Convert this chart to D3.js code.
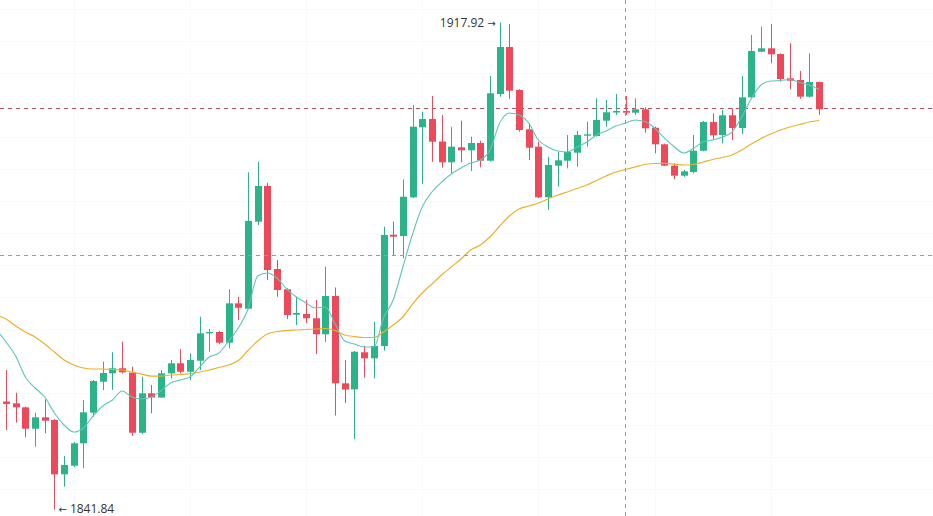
<!DOCTYPE html>
<html>
<head>
<meta charset="utf-8">
<script src="https://cdn.jsdelivr.net/npm/d3@7"></script>
<style>
  body { margin: 0; background: #fff; }
  #chart svg { display: block; }
</style>
</head>
<body>
<div id="chart"></div>
<script>
// candle data, oldest first
var open = [1858.71,1858.43,1857.80,1854.46,1856.24,1855.82,1847.34,1848.68,1852.18,1856.96,
  1861.80,1863.11,1863.90,1863.21,1853.83,1859.99,1859.33,1863.11,1864.68,1863.36,
  1865.08,1869.36,1869.57,1867.90,1874.05,1873.21,1886.80,1892.38,1879.41,1876.24,
  1872.27,1872.38,1871.71,1869.21,1875.19,1861.55,1860.61,1866.40,1865.46,1867.38,
  1884.77,1884.56,1890.61,1901.55,1902.84,1899.33,1896.08,1898.42,1897.95,1899.09,
  1896.33,1906.75,1914.09,1907.37,1901.23,1898.52,1890.61,1895.55,1896.33,1897.58,
  1900.24,1900.19,1902.58,1903.86,1904.09,1903.83,1904.36,1901.48,1898.89,1895.55,
  1893.99,1894.56,1897.89,1902.37,1900.34,1903.42,1901.44,1906.23,1913.36,1913.89,
  1913.00,1909.20,1908.94,1906.33,1908.62];
var high = [1863.63,1860.08,1857.90,1856.96,1859.05,1855.97,1850.19,1852.38,1858.94,1862.07,
  1864.93,1866.40,1868.05,1864.15,1862.58,1861.29,1863.63,1865.19,1866.91,1866.24,
  1871.96,1870.04,1869.73,1876.24,1875.08,1894.52,1896.17,1892.89,1880.82,1876.40,
  1875.08,1874.57,1874.57,1879.77,1876.52,1865.19,1866.60,1867.43,1871.18,1886.02,
  1886.80,1893.42,1905.03,1903.98,1906.44,1903.47,1901.64,1902.58,1900.08,1899.45,
  1909.56,1917.92,1917.69,1907.50,1902.17,1899.30,1896.95,1897.74,1900.34,1900.97,
  1902.42,1906.08,1905.81,1906.75,1906.44,1906.08,1904.67,1901.64,1899.00,1895.92,
  1894.88,1900.34,1902.53,1903.73,1904.25,1904.52,1909.56,1915.97,1917.26,1917.69,
  1913.10,1914.67,1910.34,1913.11,1908.70];
var low = [1854.26,1855.40,1853.12,1851.65,1853.74,1841.84,1845.40,1848.48,1848.27,1856.33,
  1860.51,1860.51,1863.10,1853.32,1853.60,1856.87,1859.30,1862.33,1863.11,1862.07,
  1863.63,1866.49,1867.65,1867.02,1871.44,1873.10,1886.28,1877.69,1875.08,1871.60,
  1870.66,1870.93,1866.13,1868.00,1856.52,1858.47,1852.80,1862.43,1862.33,1866.65,
  1881.44,1881.08,1890.50,1892.69,1896.17,1895.24,1894.36,1896.08,1894.72,1895.30,
  1896.20,1906.33,1905.97,1900.86,1896.44,1890.50,1888.63,1892.27,1895.14,1895.39,
  1898.52,1900.10,1901.64,1903.47,1903.47,1903.47,1900.70,1897.49,1895.50,1893.42,
  1893.83,1894.36,1897.80,1899.67,1899.05,1899.56,1900.50,1906.10,1913.30,1911.55,
  1908.67,1907.48,1906.02,1906.20,1903.47];
var close = [1858.32,1857.80,1854.46,1856.24,1855.71,1847.34,1848.79,1852.18,1857.02,1861.91,
  1863.16,1863.90,1863.27,1853.83,1859.99,1859.33,1863.11,1864.68,1863.36,1865.19,
  1869.36,1869.57,1867.90,1874.05,1873.36,1886.91,1892.38,1879.25,1876.13,1872.22,
  1872.54,1871.71,1869.21,1875.19,1861.55,1860.58,1866.49,1865.46,1867.38,1884.72,
  1884.46,1890.70,1901.64,1902.84,1899.30,1896.08,1898.52,1897.95,1899.09,1896.33,
  1906.86,1914.09,1907.27,1901.13,1898.36,1890.61,1895.66,1896.39,1897.69,1900.34,
  1900.45,1902.69,1903.89,1904.09,1903.83,1904.36,1901.39,1898.89,1895.55,1893.99,
  1894.67,1897.89,1902.37,1900.30,1903.42,1901.44,1906.23,1913.47,1913.89,1912.95,
  1909.09,1908.83,1906.33,1908.62,1904.36];

// moving averages, first value belongs to the bar before the visible range
var maStart = -1;
var maFast = [1869.88,
  1868.01,1865.82,1862.54,1860.82,1859.41,1856.91,1855.04,1853.94,1854.57,1856.45,
  1858.01,1858.94,1860.35,1859.41,1859.10,1859.41,1860.35,1861.60,1862.07,1862.54,
  1864.10,1865.66,1866.29,1868.16,1870.19,1873.16,1878.32,1878.79,1878.00,1876.28,
  1875.03,1874.10,1873.32,1873.47,1870.82,1868.16,1867.69,1867.22,1867.22,1871.75,
  1874.57,1879.72,1884.88,1889.10,1891.44,1893.00,1894.25,1895.19,1895.97,1896.44,
  1898.00,1902.22,1903.78,1903.47,1902.22,1899.56,1898.47,1897.85,1897.69,1898.47,
  1899.25,1900.34,1900.97,1901.75,1902.22,1902.69,1902.45,1901.44,1899.88,1898.55,
  1897.53,1898.24,1899.25,1899.56,1900.03,1900.81,1903.16,1906.05,1908.16,1908.78,
  1908.86,1909.02,1908.55,1908.16,1907.45];
var maSlow = [1872.22,
  1871.60,1870.50,1869.57,1868.79,1867.69,1866.44,1865.19,1864.41,1863.94,1863.79,
  1863.79,1863.71,1863.63,1863.32,1863.00,1862.69,1862.69,1862.85,1862.93,1863.08,
  1863.32,1863.63,1864.02,1864.41,1865.12,1866.68,1868.16,1869.26,1869.65,1869.80,
  1869.88,1869.96,1870.04,1870.12,1869.80,1869.10,1868.86,1868.71,1868.71,1869.57,
  1870.66,1871.91,1873.94,1875.66,1877.07,1878.47,1879.72,1880.97,1882.38,1883.16,
  1884.41,1886.13,1887.69,1888.78,1889.25,1889.72,1890.35,1890.97,1891.44,1891.99,
  1892.53,1893.24,1893.94,1894.56,1894.96,1895.35,1895.74,1895.89,1895.92,1895.81,
  1895.66,1895.74,1896.13,1896.52,1896.83,1897.22,1898.00,1898.94,1899.80,1900.50,
  1901.13,1901.60,1901.99,1902.38,1902.61];

var gridPrices = [1845,1850,1855,1860,1865,1870,1875,1880,1885,1890,1895,1900,1905,1910,1915,1920];
var gridBars = [7,19,31,43,55,67,79];
var crossBar = 64, crossPrice = 1881.60;

var width = 933, height = 516;
var upColor = "#2bb389", downColor = "#ec4a5b";

var x = d3.scaleLinear().domain([0, open.length - 1]).range([6, 819.1]);
var y = d3.scaleLinear().domain([d3.min(low), d3.max(high)]).range([509.5, 22.5]);

var data = open.map(function(o, i) {
  return {i: i, o: o, h: high[i], l: low[i], c: close[i]};
});

var svg = d3.select("#chart")
  .append("svg")
  .attr("width", width)
  .attr("height", height)
  .style("font-family", "'Open Sans', sans-serif");

// faint grid
svg.append("g").selectAll("line")
  .data(gridPrices).enter().append("line")
  .attr("x1", 0).attr("x2", width)
  .attr("y1", function(d) { return Math.round(y(d)) + 0.5; })
  .attr("y2", function(d) { return Math.round(y(d)) + 0.5; })
  .attr("stroke", "#f9f9f9");
svg.append("g").selectAll("line")
  .data(gridBars).enter().append("line")
  .attr("y1", 0).attr("y2", height)
  .attr("x1", function(d) { return Math.round(x(d)) + 0.5; })
  .attr("x2", function(d) { return Math.round(x(d)) + 0.5; })
  .attr("stroke", "#f9f9f9");

// last price line
svg.append("line")
  .attr("x1", 0).attr("x2", width)
  .attr("y1", Math.round(y(close[close.length - 1])) - 0.5)
  .attr("y2", Math.round(y(close[close.length - 1])) - 0.5)
  .attr("stroke", "#b5545c")
  .attr("stroke-dasharray", "4,4");

// candles
var candle = svg.append("g").selectAll("g")
  .data(data).enter().append("g");

candle.append("line")
  .attr("x1", function(d) { return Math.round(x(d.i)) + 0.5; })
  .attr("x2", function(d) { return Math.round(x(d.i)) + 0.5; })
  .attr("y1", function(d) { return y(d.h); })
  .attr("y2", function(d) { return y(d.l); })
  .attr("stroke", function(d) { return d.c >= d.o ? upColor : downColor; });

candle.append("rect")
  .attr("x", function(d) { return Math.round(x(d.i)) - 3; })
  .attr("width", 7)
  .attr("y", function(d) { return y(Math.max(d.o, d.c)); })
  .attr("height", function(d) { return Math.max(1, Math.abs(y(d.o) - y(d.c))); })
  .attr("fill", function(d) { return d.c >= d.o ? upColor : downColor; });

// moving average lines
var maLine = d3.line()
  .x(function(d, i) { return x(i + maStart); })
  .y(function(d) { return y(d); })
  .curve(d3.curveMonotoneX);

svg.append("path")
  .datum(maSlow)
  .attr("fill", "none")
  .attr("stroke", "#eab22a")
  .attr("stroke-width", 1.2)
  .attr("d", maLine);

svg.append("path")
  .datum(maFast)
  .attr("fill", "none")
  .attr("stroke", "#5cc7b6")
  .attr("stroke-width", 1.1)
  .attr("d", maLine);

// crosshair
svg.append("line")
  .attr("x1", Math.round(x(crossBar)) - 0.5).attr("x2", Math.round(x(crossBar)) - 0.5)
  .attr("y1", 0).attr("y2", height)
  .attr("stroke", "#9a9a9a")
  .attr("stroke-dasharray", "4,4");
svg.append("line")
  .attr("x1", 0).attr("x2", width)
  .attr("y1", Math.round(y(crossPrice)) + 0.5).attr("y2", Math.round(y(crossPrice)) + 0.5)
  .attr("stroke", "#9a9a9a")
  .attr("stroke-dasharray", "4,4");

// high / low markers
var hiIdx = d3.maxIndex(high), loIdx = d3.minIndex(low);
var hiText = svg.append("text")
  .attr("x", x(hiIdx) - 4)
  .attr("y", y(high[hiIdx]) + 4)
  .attr("text-anchor", "end")
  .attr("font-size", 12)
  .attr("fill", "#333");
hiText.append("tspan").text(high[hiIdx].toFixed(2) + " ");
hiText.append("tspan").attr("font-family", "DejaVu Sans").attr("font-size", 10).text("\u2192");

var loText = svg.append("text")
  .attr("x", x(loIdx) + 4)
  .attr("y", y(low[loIdx]) + 3)
  .attr("text-anchor", "start")
  .attr("font-size", 12)
  .attr("fill", "#333");
loText.append("tspan").attr("font-family", "DejaVu Sans").attr("font-size", 10).text("\u2190");
loText.append("tspan").text(" " + low[loIdx].toFixed(2));
</script>
</body>
</html>
